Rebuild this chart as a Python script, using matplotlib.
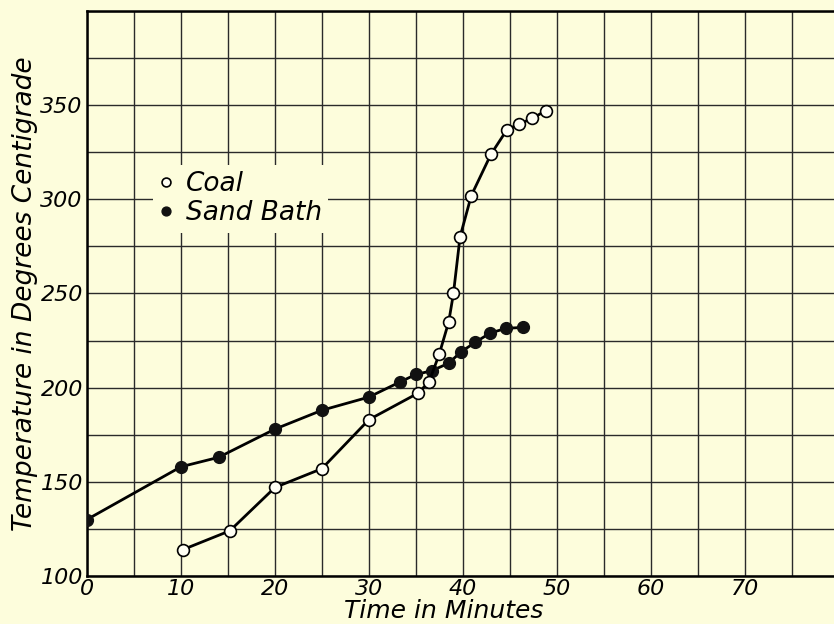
import matplotlib.pyplot as plt

# lectura del grafico original
coal_min = [10.2, 15.2, 20, 25, 30, 35.2, 36.4, 37.5, 38.5, 39.0, 39.7, 40.9, 43.0, 44.7, 46.0, 47.4, 48.8]
coal_temp = [114, 124, 147, 157, 183, 197, 203, 218, 235, 250, 280, 302, 324, 337, 340, 343, 347]

sand_min = [0, 10, 14, 20, 25, 30, 33.3, 35.0, 36.7, 38.5, 39.8, 41.3, 42.9, 44.6, 46.4]
sand_temp = [130, 158, 163, 178, 188, 195, 203, 207, 209, 213, 219, 224, 229, 231.5, 232]

x_ticks = [0, 10, 20, 30, 40, 50, 60, 70]
y_ticks = [100, 150, 200, 250, 300, 350]

paper = "#fdfddc"

fig = plt.figure(figsize=(8.34, 6.24), dpi=100)
fig.patch.set_facecolor(paper)
ax = fig.add_axes([0.1043, 0.0769, 0.8957, 0.9055])
ax.set_facecolor(paper)

ax.plot(sand_min, sand_temp, color="black", lw=2, marker="o", ms=8.5,
        mfc="#111111", mec="#111111", label="Sand Bath", zorder=3)
ax.plot(coal_min, coal_temp, color="black", lw=2, marker="o", ms=8.5,
        mfc="#fffff4", mec="black", mew=1.2, label="Coal", zorder=4)

ax.set_xlim(0, 79.5)
ax.set_ylim(100, 400)
ax.set_xticks(range(0, 80, 5))
ax.set_yticks(range(100, 401, 25))
ax.grid(True, color="#2a2a2a", lw=1.0)
ax.set_axisbelow(True)

fnt = dict(family="DejaVu Sans", style="italic", fontweight="light")
ax.set_xticklabels([str(v) if v in x_ticks else "" for v in range(0, 80, 5)], fontsize=16, **fnt)
ax.set_yticklabels([str(v) if v in y_ticks else "" for v in range(100, 401, 25)], fontsize=16, **fnt)
ax.tick_params(length=0, pad=3)
ax.tick_params(axis="x", pad=2)

for s in ["left", "bottom", "top"]:
    ax.spines[s].set_linewidth(1.8)
ax.spines["right"].set_visible(False)

ax.set_xlabel("Time in Minutes", fontsize=18, **fnt)
ax.xaxis.set_label_coords(0.478, -0.040)
ax.set_ylabel("Temperature in Degrees Centigrade", fontsize=19, labelpad=2, **fnt)

h, l = ax.get_legend_handles_labels()
leg = ax.legend(h[::-1], l[::-1], loc="upper left", bbox_to_anchor=(0.088, 0.728),
                frameon=True, facecolor=paper, edgecolor="none", framealpha=1,
                handlelength=0.5, handletextpad=0.5, borderaxespad=0, markerscale=0.75,
                labelspacing=0.1, borderpad=0.25,
                prop=dict(family="DejaVu Sans", style="italic", size=19))
for line in leg.get_lines():
    line.set_linestyle("none")

plt.savefig("out.png", dpi=100, facecolor=paper)
